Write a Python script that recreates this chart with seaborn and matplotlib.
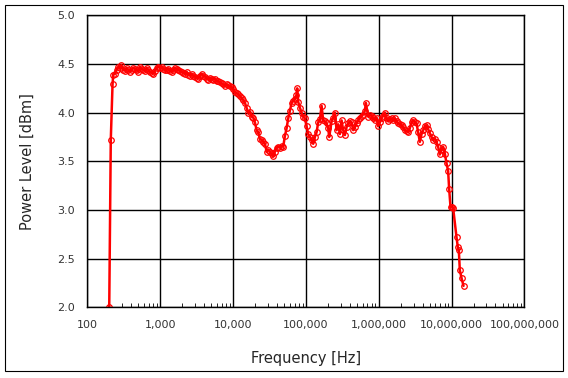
import matplotlib
matplotlib.use("Agg")
import matplotlib.pyplot as plt
import matplotlib.ticker as mticker
from matplotlib.patches import Rectangle
import numpy as np
import pandas as pd
import seaborn as sns

# frequency sweep (Hz)
freq_hz = [
    200, 210, 222, 227, 240, 252, 266, 281, 294, 312,
    329, 347, 365, 385, 406, 428, 451, 476, 501, 528,
    558, 587, 619, 653, 687, 725, 764, 804, 848, 895,
    942, 994, 1048, 1103, 1164, 1228, 1291, 1363, 1438, 1512,
    1596, 1684, 1771, 1869, 1972, 2074, 2188, 2309, 2429, 2563,
    2704, 2844, 3002, 3167, 3331, 3516, 3710, 3902, 4117, 4344,
    4568, 4821, 5086, 5350, 5645, 5957, 6266, 6611, 6976, 7337,
    7742, 8169, 8594, 9068, 9568, 10060, 10620, 11210, 11790, 12440,
    13120, 13800, 14570, 15370, 16170, 17050, 18000, 18930, 19970, 21070,
    22170, 23390, 24680, 25960, 27390, 28900, 30400, 32080, 33840, 35600,
    37560, 39630, 41690, 43990, 46420, 48820, 51510, 54360, 57170, 60320,
    63640, 66940, 70640, 74080, 75980, 78420, 82750, 87300, 91840, 96900,
    102200, 107600, 113500, 119700, 125900, 132900, 140300, 147500, 155600, 164200,
    172700, 182200, 192300, 202300, 208800, 225200, 236800, 249900, 263700, 277400,
    292700, 308800, 324800, 342800, 361600, 380400, 401400, 423600, 445500, 470000,
    496000, 521700, 550500, 580800, 611000, 644700, 665400, 715400, 755000, 796700,
    837900, 884200, 932900, 981300, 1035000, 1093000, 1149000, 1213000, 1279000, 1346000,
    1420000, 1498000, 1576000, 1663000, 1755000, 1846000, 1948000, 2055000, 2162000, 2280000,
    2406000, 2532000, 2671000, 2818000, 2964000, 3128000, 3300000, 3472000, 3663000, 3865000,
    4064000, 4289000, 4526000, 4758000, 5023000, 5300000, 5572000, 5880000, 6205000, 6525000,
    6885000, 7265000, 7641000, 8063000, 8510000, 8954000, 9240000, 9658000, 9967000, 10490000,
    11670000, 12160000, 12550000, 12960000, 13680000, 14560000,
]

# measured power level (dBm)
level_dbm = [
    2.00, 3.72, 4.29, 4.39, 4.40, 4.44, 4.47, 4.46, 4.49, 4.44,
    4.43, 4.46, 4.44, 4.42, 4.44, 4.46, 4.45, 4.44, 4.42, 4.47,
    4.45, 4.44, 4.43, 4.46, 4.44, 4.42, 4.41, 4.40, 4.43, 4.46,
    4.47, 4.46, 4.47, 4.45, 4.44, 4.44, 4.45, 4.43, 4.42, 4.44,
    4.46, 4.45, 4.44, 4.43, 4.42, 4.41, 4.40, 4.42, 4.39, 4.38,
    4.40, 4.38, 4.37, 4.36, 4.35, 4.38, 4.40, 4.38, 4.37, 4.35,
    4.34, 4.36, 4.35, 4.34, 4.35, 4.33, 4.32, 4.31, 4.30, 4.29,
    4.27, 4.29, 4.28, 4.27, 4.26, 4.24, 4.21, 4.20, 4.19, 4.17,
    4.15, 4.13, 4.10, 4.05, 4.00, 4.01, 3.96, 3.95, 3.90, 3.82,
    3.80, 3.73, 3.72, 3.70, 3.68, 3.60, 3.62, 3.60, 3.57, 3.55,
    3.60, 3.64, 3.65, 3.64, 3.66, 3.65, 3.76, 3.84, 3.94, 4.02,
    4.10, 4.12, 4.14, 4.18, 4.25, 4.11, 4.05, 4.00, 3.96, 3.94,
    3.86, 3.78, 3.75, 3.72, 3.68, 3.75, 3.80, 3.90, 3.93, 4.07,
    3.92, 3.91, 3.89, 3.84, 3.75, 3.91, 3.95, 4.00, 3.82, 3.88,
    3.78, 3.92, 3.82, 3.77, 3.85, 3.89, 3.91, 3.90, 3.82, 3.85,
    3.89, 3.92, 3.95, 3.97, 3.98, 4.02, 4.10, 3.96, 3.98, 3.97,
    3.94, 3.92, 3.95, 3.86, 3.90, 3.94, 3.97, 4.00, 3.95, 3.91,
    3.93, 3.94, 3.92, 3.94, 3.91, 3.89, 3.88, 3.87, 3.85, 3.82,
    3.81, 3.80, 3.84, 3.90, 3.92, 3.90, 3.89, 3.80, 3.70, 3.78,
    3.82, 3.86, 3.87, 3.83, 3.79, 3.75, 3.72, 3.73, 3.70, 3.65,
    3.57, 3.62, 3.65, 3.58, 3.48, 3.40, 3.22, 3.03, 3.03, 3.02,
    2.72, 2.62, 2.59, 2.38, 2.30, 2.22,
]

y_ticks = [2.0, 2.5, 3.0, 3.5, 4.0, 4.5, 5.0]
x_ticks = [1e2, 1e3, 1e4, 1e5, 1e6, 1e7, 1e8]

df = pd.DataFrame({"freq": freq_hz, "level": level_dbm})

sns.set_style("white")
plt.rcParams["font.family"] = ["DejaVu Sans"]

fig = plt.figure(figsize=(5.68, 3.78), dpi=100)
ax = fig.add_axes([0.1537, 0.187, 0.7697, 0.7725])

sns.lineplot(data=df, x="freq", y="level", ax=ax, sort=False, estimator=None,
             color="#ff0000", linewidth=1.8, marker="o", markersize=4.0,
             markerfacecolor="none", markeredgecolor="#ff0000", markeredgewidth=0.9)

ax.set_xscale("log")
ax.set_xlim(1e2, 1e8)
ax.set_ylim(2.0, 5.0)
ax.set_xticks(x_ticks)
ax.set_yticks(y_ticks)
ax.xaxis.set_major_formatter(mticker.FuncFormatter(lambda v, p: f"{int(round(v)):,}"))
ax.yaxis.set_major_formatter(mticker.FormatStrFormatter("%.1f"))
ax.xaxis.set_minor_locator(mticker.LogLocator(base=10, subs=np.arange(2, 10)))
ax.xaxis.set_minor_formatter(mticker.NullFormatter())

ax.grid(True, which="major", color="black", linewidth=1.0)
for s in ax.spines.values():
    s.set_color("black")
    s.set_linewidth(1.0)
ax.tick_params(axis="both", which="major", length=0, labelsize=8, colors="#333333", pad=9)
ax.tick_params(axis="x", which="minor", direction="in", length=3, color="black", bottom=True)
ax.tick_params(axis="x", which="major", pad=9)

ax.set_xlabel("Frequency [Hz]", fontsize=10.5, labelpad=15)
ax.set_ylabel("Power Level [dBm]", fontsize=10.5, labelpad=16)

fig.patches.append(Rectangle((5 / 568, 7 / 378), 558 / 568, 366 / 378, transform=fig.transFigure,
                             fill=False, edgecolor="black", linewidth=0.8))

fig.savefig("out.png", dpi=100)
